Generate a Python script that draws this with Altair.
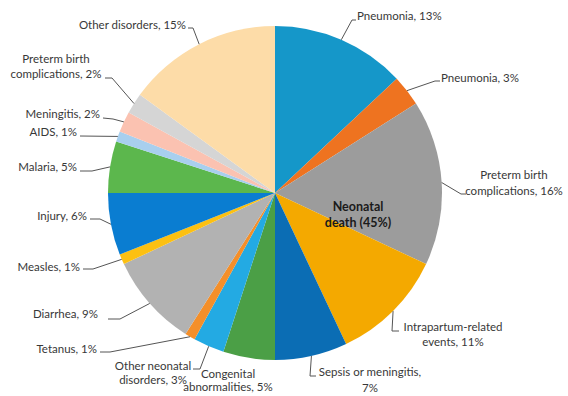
import math
import altair as alt
import pandas as pd

# ---- data ----
names = ["Pneumonia", "Pneumonia", "Preterm birth complications",
         "Intrapartum-related events", "Sepsis or meningitis",
         "Congenital abnormalities", "Other neonatal disorders", "Tetanus",
         "Diarrhea", "Measles", "Injury", "Malaria", "AIDS", "Meningitis",
         "Preterm birth complications", "Other disorders"]
values = [13, 3, 16, 11, 7, 5, 3, 1, 9, 1, 6, 5, 1, 2, 2, 15]
center_lines = ["Neonatal", "death (45%)"]

# ---- styles / layout ----
colors = ["#1597c9", "#ee7320", "#9c9c9c", "#f4a900", "#0b6db4", "#4b9f46",
          "#23aae3", "#f48f2a", "#b2b2b2", "#fcc012", "#0a7dd1", "#5cb74d",
          "#a8cfee", "#fbc2b1", "#d5d5d5", "#fddca8"]
first_line_words = [0, 0, 2, 1, 3, 1, 2, 0, 0, 0, 0, 0, 0, 0, 2, 0]
label_x = [357, 441, 514, 453, 370, 228, 153, 97, 98, 80, 87, 77, 77, 100, 56, 186]
label_y = [17, 79, 176, 328, 373, 375, 367, 350, 315, 268, 217, 168, 133, 115, 60, 26]
label_lh = [15, 15, 16, 15, 16, 13, 14, 15, 15, 15, 15, 15, 15, 15, 15, 15]
label_align = ["left", "left", "center", "center", "center", "center", "center",
               "right", "right", "right", "right", "right", "right", "right",
               "center", "right"]
knee = [(352, 20), (435, 81), (461, 194), (392, 331), (310, 376), None,
        (200, 369), (110, 352), (120, 319), (93, 269), (100, 219), (92, 171),
        (80, 136), (113, 119), (112, 78), (193, 28)]
end = [(356, 20), (440, 81), (466, 194), (399, 331), (316, 376), None,
       (193, 369), (100, 352), (108, 319), (83, 269), (90, 219), (80, 171),
       (80, 136), (103, 118), (105, 78), (188, 28)]
CX, CY, R = 275, 193, 167
W, H = 568, 396

slices = pd.DataFrame({"key": [str(i) for i in range(len(values))],
                       "name": names, "value": values,
                       "idx": list(range(len(values)))})

total = sum(values)
text_rows, line_rows = [], []
cum = 0
for i, v in enumerate(values):
    mid = (cum + v / 2) / total * 2 * math.pi
    cum += v
    label = f"{names[i]}, {v}%"
    words = label.split(" ")
    k = first_line_words[i]
    lines = [label] if k == 0 else [" ".join(words[:k]), " ".join(words[k:])]
    for j, ln in enumerate(lines):
        text_rows.append({"t": ln, "px": label_x[i],
                          "py": label_y[i] + j * label_lh[i],
                          "align": label_align[i]})
    if knee[i] is not None:
        sx, sy = CX + R * math.sin(mid), CY - R * math.cos(mid)
        for s, (x, y) in enumerate([(sx, sy), knee[i], end[i]]):
            line_rows.append({"id": i, "seq": s, "px": x, "py": y})

texts = pd.DataFrame(text_rows)
leaders = pd.DataFrame(line_rows)
center_df = pd.DataFrame({"t": center_lines, "px": [358, 358],
                          "py": [207, 223]})

pie = alt.Chart(slices).mark_arc(outerRadius=R, strokeWidth=0).encode(
    theta=alt.Theta("value:Q", stack=True),
    order=alt.Order("idx:Q"),
    color=alt.Color("key:N", scale=alt.Scale(domain=slices["key"].tolist(),
                                             range=colors), legend=None),
    x=alt.value(CX), y=alt.value(CY),
)

lead = alt.Chart(leaders).mark_line(color="#555555", strokeWidth=1).encode(
    x=alt.X("px:Q", scale=None), y=alt.Y("py:Q", scale=None),
    detail="id:N", order="seq:Q",
)

layers = [pie, lead]
for a in ["left", "center", "right"]:
    sub = texts[texts["align"] == a]
    layers.append(
        alt.Chart(sub).mark_text(align=a, baseline="middle", font="Lato",
                                 fontSize=11.5, color="#383838").encode(
            x=alt.X("px:Q", scale=None), y=alt.Y("py:Q", scale=None), text="t:N")
    )

center = alt.Chart(center_df).mark_text(align="center", baseline="middle",
                                        font="Lato", fontSize=12.5,
                                        fontWeight="bold", color="#1a1a1a").encode(
    x=alt.X("px:Q", scale=None), y=alt.Y("py:Q", scale=None), text="t:N")
layers.append(center)

chart = alt.layer(*layers).properties(
    width=W, height=H, autosize=alt.AutoSizeParams(type="none"), padding=0,
    background="white",
).configure_view(stroke=None)

chart.save("out.html", embed_options={"renderer": "svg", "actions": False})
